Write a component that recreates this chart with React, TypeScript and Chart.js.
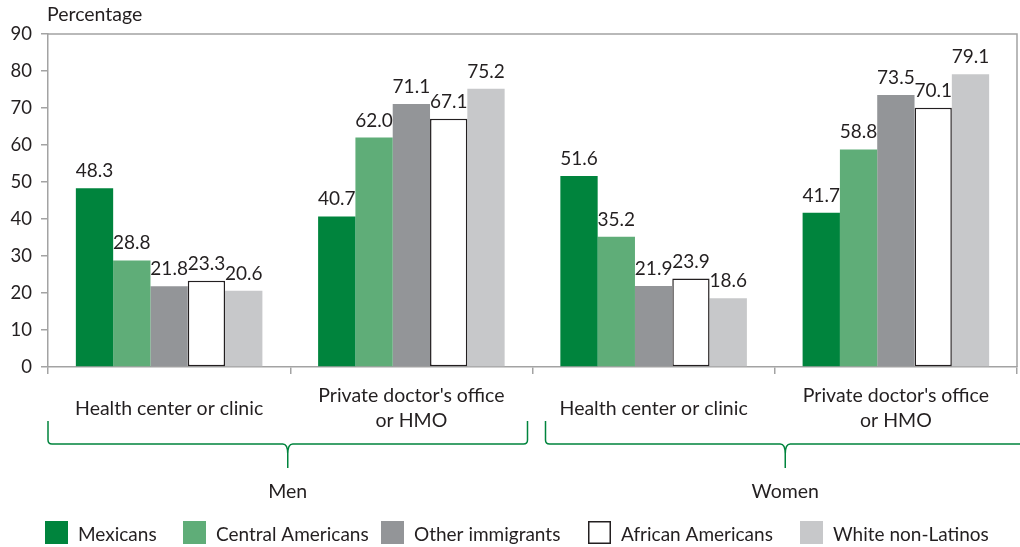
import React, { useEffect, useRef } from 'react';
import { Chart, registerables } from 'chart.js';

Chart.register(...registerables);

// ---------- data ----------
const categories = ['Health center or clinic', "Private doctor's office or HMO", 'Health center or clinic', "Private doctor's office or HMO"];
const categoryLines = [
  ['Health center or clinic'],
  ["Private doctor's office", 'or HMO'],
  ['Health center or clinic'],
  ["Private doctor's office", 'or HMO'],
];
const groups = ['Men', 'Women'];
const seriesNames = ['Mexicans', 'Central Americans', 'Other immigrants', 'African Americans', 'White non-Latinos'];
const mexicans = [48.3, 40.7, 51.6, 41.7];
const centralAmericans = [28.8, 62.0, 35.2, 58.8];
const otherImmigrants = [21.8, 71.1, 21.9, 73.5];
const africanAmericans = [23.3, 67.1, 23.9, 70.1];
const whiteNonLatinos = [20.6, 75.2, 18.6, 79.1];
const yMin = 0;
const yMax = 90;
const yStep = 10;
const yTitle = 'Percentage';

// ---------- styles ----------
const FONT = 'Lato, "Open Sans", sans-serif';
const TEXT = '#231f20';
const AXIS = '#a3a3a3';
const BRACE = '#00843d';
const fills = ['#00843d', '#5fad78', '#939598', '#ffffff', '#c7c8ca'];
const borders = ['#00843d', '#5fad78', '#939598', '#231f20', '#c7c8ca'];
const borderWidths = [0, 0, 0, 1.5, 0];
const legendX = [45, 183, 381, 588, 800];

const TICK_SIZE = 18.5;
const LABEL_SIZE = 19;
const CAT_SIZE = 19.5;
const LEGEND_SIZE = 19;
const TITLE_SIZE = 19.5;

const overlay = {
  id: 'overlay',
  afterDatasetsDraw(chart: any) {
    const ctx = chart.ctx;
    ctx.save();
    ctx.font = `${LABEL_SIZE}px ${FONT}`;
    ctx.fillStyle = TEXT;
    ctx.textAlign = 'center';
    ctx.textBaseline = 'alphabetic';
    chart.data.datasets.forEach((ds: any, i: number) => {
      const meta = chart.getDatasetMeta(i);
      meta.data.forEach((el: any, j: number) => {
        ctx.fillText(Number(ds.data[j]).toFixed(1), el.x, el.y - 11);
      });
    });
    ctx.restore();
  },
  afterDraw(chart: any) {
    const ctx = chart.ctx;
    const area = chart.chartArea;
    const xs = chart.scales.x;
    ctx.save();

    // plot border
    ctx.strokeStyle = AXIS;
    ctx.lineWidth = 1.5;
    ctx.beginPath();
    ctx.moveTo(area.left, area.top);
    ctx.lineTo(area.right, area.top);
    ctx.lineTo(area.right, area.bottom);
    ctx.stroke();

    // title
    ctx.fillStyle = TEXT;
    ctx.font = `${TITLE_SIZE}px ${FONT}`;
    ctx.textAlign = 'left';
    ctx.textBaseline = 'alphabetic';
    ctx.fillText(yTitle, area.left - 1, area.top - 13);

    // category labels
    ctx.font = `${CAT_SIZE}px ${FONT}`;
    ctx.textAlign = 'center';
    categoryLines.forEach((lines, i) => {
      const x = xs.getPixelForValue(i);
      if (lines.length === 1) {
        ctx.fillText(lines[0], x, area.bottom + 48);
      } else {
        ctx.fillText(lines[0], x, area.bottom + 35);
        ctx.fillText(lines[1], x, area.bottom + 60);
      }
    });

    // braces
    const mid = (xs.getPixelForValue(1) + xs.getPixelForValue(2)) / 2;
    const menL = area.left;
    const menR = mid - 5;
    const w = menR - menL;
    const womenL = mid + 13;
    const spans = [[menL, menR], [womenL, womenL + w]];
    const topY = area.bottom + 54;
    const midY = area.bottom + 77;
    const tipY = area.bottom + 101;
    ctx.strokeStyle = BRACE;
    ctx.lineWidth = 1.5;
    spans.forEach(([a, b], gi) => {
      const c = (a + b) / 2;
      const r = 4;
      ctx.beginPath();
      ctx.moveTo(a, topY);
      ctx.lineTo(a, midY - r);
      ctx.quadraticCurveTo(a, midY, a + r, midY);
      ctx.lineTo(c - 5, midY);
      ctx.bezierCurveTo(c - 2, midY, c, midY + 2, c, midY + 10);
      ctx.lineTo(c, tipY);
      ctx.moveTo(c, midY + 10);
      ctx.bezierCurveTo(c, midY + 2, c + 2, midY, c + 5, midY);
      ctx.lineTo(b - r, midY);
      ctx.quadraticCurveTo(b, midY, b, midY - r);
      ctx.lineTo(b, topY);
      ctx.stroke();

      ctx.fillStyle = TEXT;
      ctx.font = `${CAT_SIZE}px ${FONT}`;
      ctx.textAlign = 'center';
      ctx.fillText(groups[gi], c, area.bottom + 131);
    });

    // legend
    const boxTop = area.bottom + 154;
    const box = 23;
    ctx.font = `${LEGEND_SIZE}px ${FONT}`;
    ctx.textAlign = 'left';
    seriesNames.forEach((name, i) => {
      const x = legendX[i];
      ctx.fillStyle = fills[i];
      ctx.fillRect(x, boxTop, box, box);
      if (borderWidths[i] > 0) {
        ctx.strokeStyle = borders[i];
        ctx.lineWidth = 1.5;
        ctx.strokeRect(x + 0.75, boxTop + 0.75, box - 1.5, box - 1.5);
      }
      ctx.fillStyle = TEXT;
      ctx.fillText(name, x + 33, boxTop + 20);
    });

    ctx.restore();
  },
};

export default function App() {
  const ref = useRef<HTMLCanvasElement | null>(null);

  useEffect(() => {
    if (!ref.current) return;
    const seriesData = [mexicans, centralAmericans, otherImmigrants, africanAmericans, whiteNonLatinos];
    const chart = new Chart(ref.current, {
      type: 'bar',
      data: {
        labels: categories,
        datasets: seriesNames.map((name, i) => ({
          label: name,
          data: seriesData[i],
          backgroundColor: fills[i],
          borderColor: borders[i],
          borderWidth: borderWidths[i],
          borderSkipped: false,
          categoryPercentage: 0.77,
          barPercentage: 1.0,
        })),
      },
      options: {
        responsive: false,
        animation: false,
        layout: { padding: { top: 34, right: 3, left: 0, bottom: 0 } },
        plugins: {
          legend: { display: false },
          tooltip: { enabled: false },
          title: { display: false },
        },
        scales: {
          x: {
            offset: true,
            grid: {
              offset: true,
              drawOnChartArea: false,
              drawTicks: true,
              tickLength: 7,
              color: AXIS,
              lineWidth: 1.5,
            },
            border: { color: AXIS, width: 1.5 },
            ticks: { display: false },
            afterFit: (s: any) => { s.height = 180; },
          },
          y: {
            min: yMin,
            max: yMax,
            ticks: {
              stepSize: yStep,
              color: TEXT,
              font: { family: FONT, size: TICK_SIZE },
              padding: 9,
            },
            grid: {
              drawOnChartArea: false,
              drawTicks: true,
              tickLength: 7,
              color: AXIS,
              lineWidth: 1.5,
            },
            border: { color: AXIS, width: 1.5 },
            afterFit: (s: any) => { s.width = 48; },
          },
        },
      },
      plugins: [overlay],
    });
    return () => chart.destroy();
  }, []);

  return (
    <div style={{ position: 'absolute', left: 0, top: 0, width: 1020, height: 547, background: '#fff' }}>
      <canvas ref={ref} width={1020} height={547} />
    </div>
  );
}
